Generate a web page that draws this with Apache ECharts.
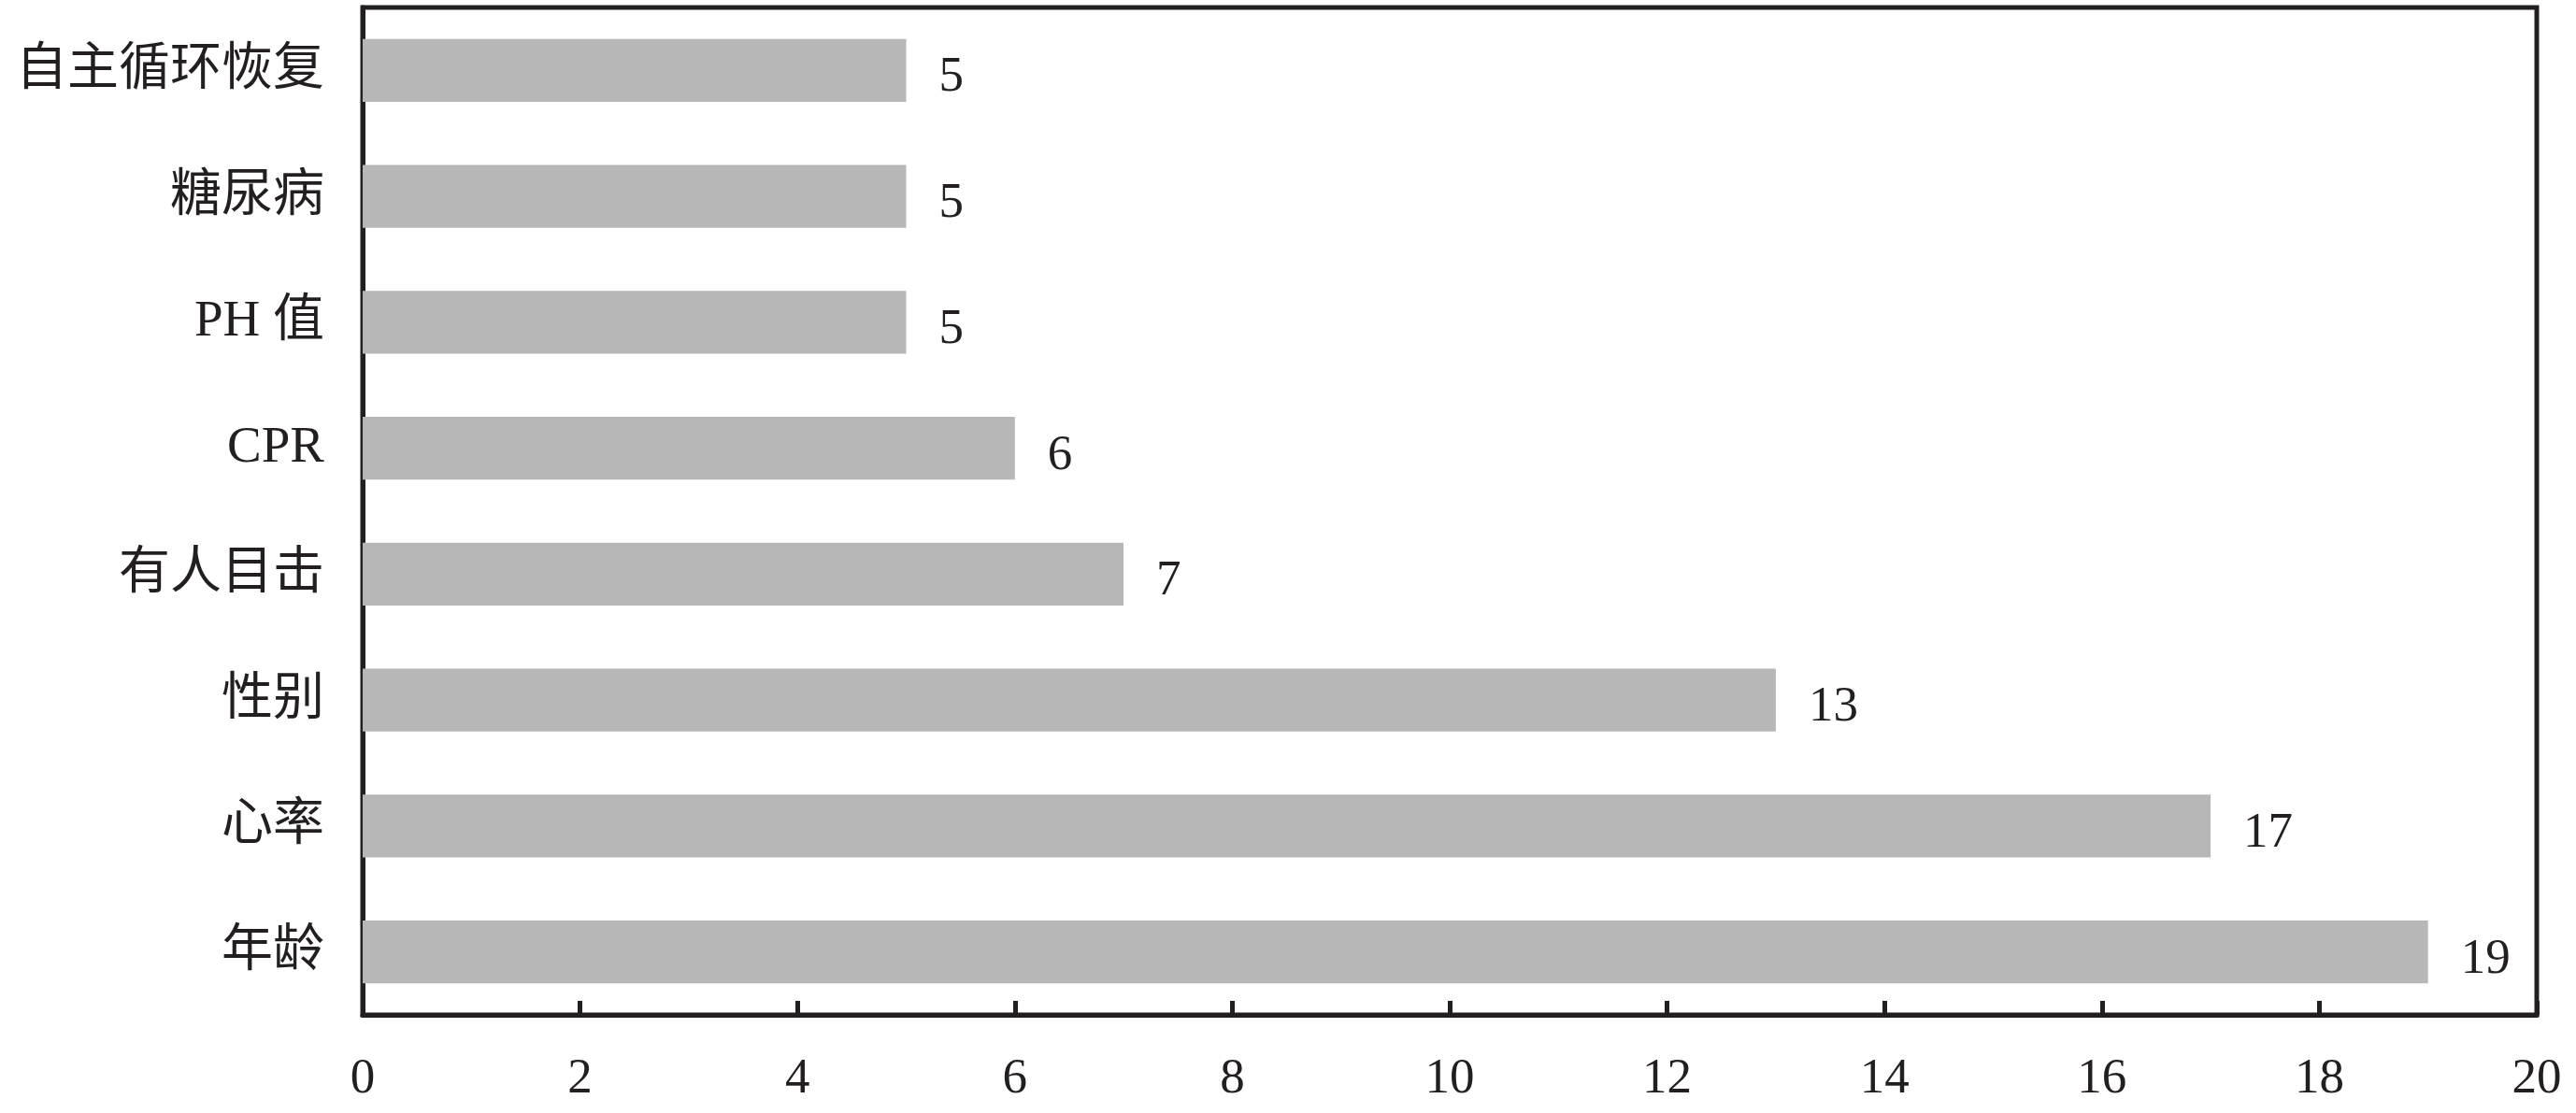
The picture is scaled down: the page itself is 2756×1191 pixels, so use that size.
<!DOCTYPE html>
<html><head><meta charset="utf-8">
<script src="https://cdn.jsdelivr.net/npm/echarts@6/dist/echarts.min.js"></script>
<style>html,body{margin:0;padding:0;background:#fff}#c{width:2756px;height:1191px}</style>
</head><body><div id="c"></div>
<script>
const categories = ['年龄','心率','性别','有人目击','CPR','PH 值','糖尿病','自主循环恢复'];
const values = [19,17,13,7,6,5,5,5];
const xTicks = [0,2,4,6,8,10,12,14,16,18,20];

const FONT = '"Liberation Serif","Noto Sans CJK SC",serif';
const INK = '#231f20';
const chart = echarts.init(document.getElementById('c'));
chart.setOption({
  animation:false,
  backgroundColor:'#fff',
  grid:{left:388,right:42,top:8,bottom:105,show:true,borderColor:INK,borderWidth:5,backgroundColor:'transparent'},
  xAxis:{type:'value',min:xTicks[0],max:xTicks[xTicks.length-1],interval:2,
    splitLine:{show:false},
    axisLine:{show:true,lineStyle:{color:INK,width:5}},
    axisTick:{show:true,inside:true,length:15,lineStyle:{color:INK,width:5}},
    axisLabel:{color:INK,fontSize:53,fontFamily:FONT,margin:43}},
  yAxis:{type:'category',data:categories,
    axisLine:{show:true,lineStyle:{color:INK,width:5}},
    axisTick:{show:false},
    axisLabel:{color:INK,fontSize:55,fontFamily:FONT,margin:41,padding:[6,0,0,0]}},
  series:[{type:'bar',data:values,barWidth:'50%',
    itemStyle:{color:'#b7b7b7'},
    label:{show:true,position:'right',distance:35,offset:[0,8],color:INK,fontSize:53,fontFamily:FONT}}]
});
</script></body></html>
